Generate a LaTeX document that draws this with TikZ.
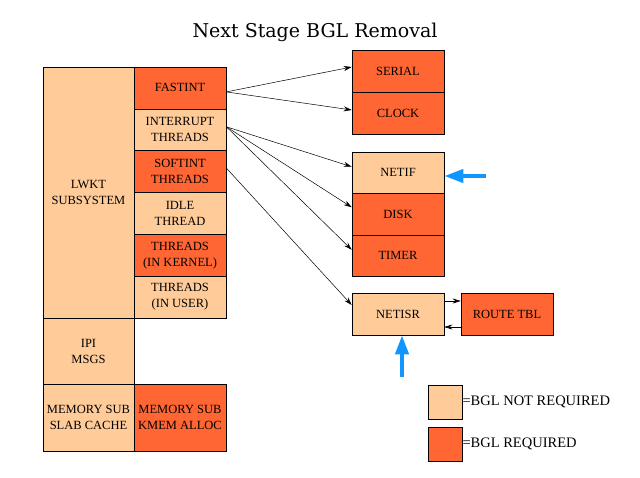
\documentclass[tikz,border=0pt]{standalone}
\usepackage{fontspec}
\setmainfont{Liberation Serif}
\newfontfamily\titlefont{DejaVu Serif}
\usetikzlibrary{arrows.meta}
\definecolor{lightbgl}{RGB}{255,204,153}
\definecolor{darkbgl}{RGB}{255,102,51}
\definecolor{bluearr}{RGB}{17,150,255}
\tikzset{
  box/.style={draw=black, line width=0.6pt, inner sep=0pt, align=center,
    font=\fontsize{12.5}{16}\selectfont, minimum width=92pt, minimum height=41.83pt},
  lt/.style={box, fill=lightbgl},
  dk/.style={box, fill=darkbgl},
  conn/.style={line width=0.5pt, -{Stealth[length=8pt,width=5pt]}},
  blue/.style={draw=bluearr, line width=4pt, -{Triangle[length=19pt,width=13pt]}},
  legtext/.style={anchor=west, inner sep=0pt, font=\fontsize{14.5}{17}\selectfont}
}
\begin{document}
\begin{tikzpicture}[x=1pt,y=-1pt]
\useasboundingbox (0,0) rectangle (640,477);
\node[font=\titlefont\fontsize{19}{22}\selectfont, anchor=base] (title) at (315,37) {Next Stage BGL Removal};
% left block
\node[lt, minimum width=91pt, minimum height=251pt] (lwkt) at (88.5,192.5) {LWKT\\SUBSYSTEM};
\node[dk] (fast) at (180,87.9) {FASTINT};
\node[lt] (intr) at (180,129.75) {INTERRUPT\\THREADS};
\node[dk] (soft) at (180,171.6) {SOFTINT\\THREADS};
\node[lt] (idle) at (180,213.4) {IDLE\\THREAD};
\node[dk] (kern) at (180,255.25) {THREADS\\(IN KERNEL)};
\node[lt] (user) at (180,297.1) {THREADS\\(IN USER)};
\node[lt, minimum width=91pt, minimum height=66pt] (ipi) at (88.5,351) {IPI\\MSGS};
\node[lt, minimum width=91pt, minimum height=67pt] (slab) at (88.5,417.5) {MEMORY SUB\\SLAB CACHE};
\node[dk, minimum height=67pt] (kmem) at (180,417.5) {MEMORY SUB\\KMEM ALLOC};
% right boxes
\node[dk, minimum height=42pt] (serial) at (398,71) {SERIAL};
\node[dk, minimum height=42pt] (clock) at (398,113) {CLOCK};
\node[lt, minimum height=41.5pt] (netif) at (398,172.75) {NETIF};
\node[dk, minimum height=41.5pt] (disk) at (398,214.25) {DISK};
\node[dk, minimum height=41.5pt] (timer) at (398,255.75) {TIMER};
\node[lt, minimum height=42pt] (netisr) at (398,314) {NETISR};
\node[dk, minimum height=42pt] (route) at (507,314) {ROUTE TBL};
% connectors
\draw[conn] ([yshift=-4pt]fast.east) -- ([yshift=4pt]serial.west);
\draw[conn] ([yshift=-4pt]fast.east) -- ([yshift=3pt]clock.west);
\draw[conn] ([yshift=3pt]intr.east) -- ([yshift=6pt]netif.west);
\draw[conn] ([yshift=3pt]intr.east) -- ([yshift=7pt]disk.west);
\draw[conn] ([yshift=3pt]intr.east) -- ([yshift=6pt]timer.west);
\draw[conn] ([yshift=3.6pt]soft.east) -- ([yshift=9pt]netisr.west);
\draw[conn] ([yshift=13pt]netisr.east) -- ([yshift=13pt]route.west);
\draw[conn] ([yshift=-13pt]route.west) -- ([yshift=-13pt]netisr.east);
% blue arrows
\coordinate (bup) at (402,377);
\coordinate (bleft) at (486,176);
\draw[blue] (bup) -- (bup |- netisr.south);
\draw[blue] (bleft) -- (netif.east |- bleft);
% legend
\node[lt, minimum width=34pt, minimum height=34pt] (leg1) at (445,402) {};
\node[dk, minimum width=34pt, minimum height=34pt] (leg2) at (445,444) {};
\node[legtext] (leg1t) at (leg1.east) {=BGL NOT REQUIRED};
\node[legtext] (leg2t) at (leg2.east) {=BGL REQUIRED};
\end{tikzpicture}
\end{document}
